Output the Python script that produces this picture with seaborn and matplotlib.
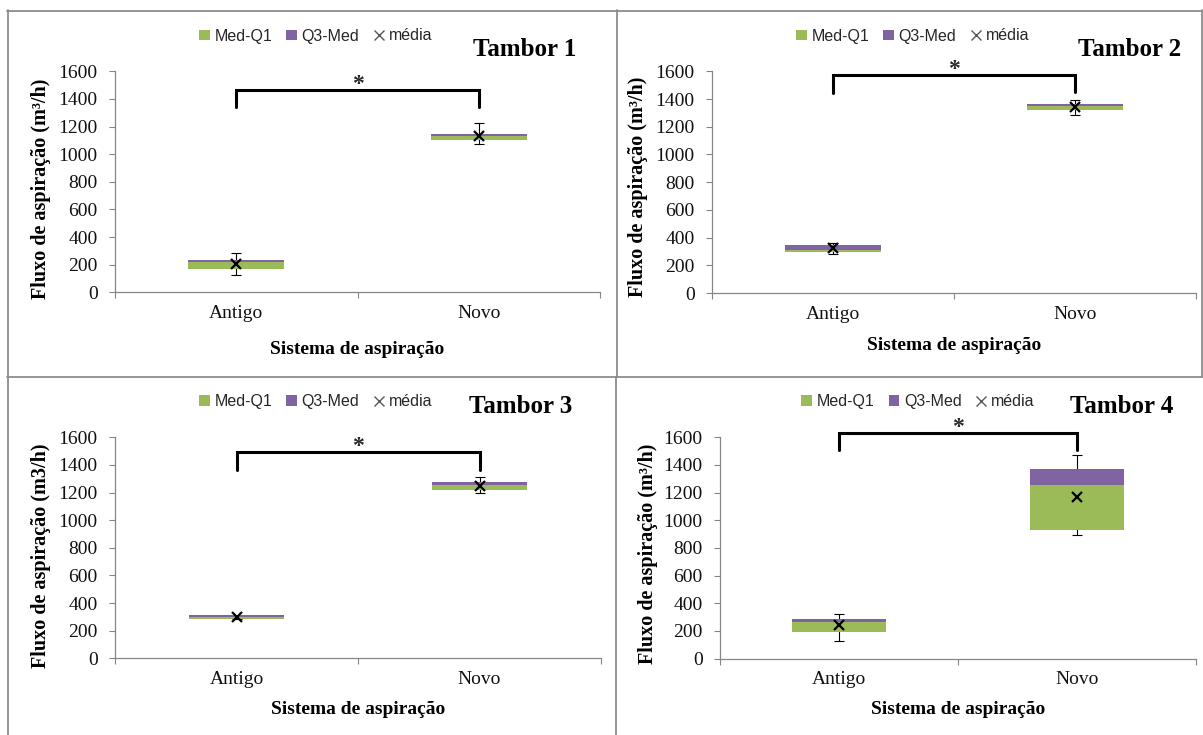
import numpy as np
import pandas as pd
import matplotlib
matplotlib.use("Agg")
import matplotlib.pyplot as plt
import seaborn as sns
from matplotlib.patches import Patch
from matplotlib.lines import Line2D

# ---------------- data ----------------
categories = ["Antigo", "Novo"]
titles = ["Tambor 1", "Tambor 2", "Tambor 3", "Tambor 4"]
ylabels = ["Fluxo de aspiração (m³/h)", "Fluxo de aspiração (m³/h)",
           "Fluxo de aspiração (m3/h)", "Fluxo de aspiração (m³/h)"]
xlabel = "Sistema de aspiração"
legend_labels = ["Med-Q1", "Q3-Med", "média"]
yticks = [0, 200, 400, 600, 800, 1000, 1200, 1400, 1600]

q1 = [[167, 1100], [298, 1321], [282, 1218], [192, 928]]
med = [[219, 1132], [308, 1352], [301, 1255], [262, 1256]]
q3 = [[234, 1146], [347, 1365], [313, 1279], [284, 1369]]
mean = [[205, 1132], [327, 1345], [297, 1250], [241, 1171]]
whisk_lo = [[125, 1074], [279, 1287], [287, 1195], [130, 892]]
whisk_hi = [[282, 1224], [359, 1393], [308, 1315], [322, 1473]]
bracket_top = [1467, 1575, 1496, 1632]
bracket_left_end = [1340, 1445, 1360, 1509]
bracket_right_end = [1342, 1453, 1362, 1509]
signif = ["*", "*", "*", "*"]

# ---------------- style ----------------
GREEN = "#9BBB59"
PURPLE = "#8064A2"
AXIS_GRAY = "#868686"
FRAME_GRAY = "#8c8c8c"

sns.set_theme(style="white")
plt.rcParams["font.family"] = ["Liberation Serif", "DejaVu Serif"]

W, H = 1203, 735
fig = plt.figure(figsize=(W / 100, H / 100), dpi=100)
fig.patch.set_facecolor("white")


def fig_rect(x0, y0, x1, y1):
    return [x0 / W, 1 - y1 / H, (x1 - x0) / W, (y1 - y0) / H]


axes_px = [(115, 71.3, 600, 292.3), (712, 71.3, 1196, 293),
           (115, 437.3, 601, 658.3), (720, 437.3, 1196, 658.5)]
ylabel_px = [(41.5, 188.5), (638, 187), (41.5, 555.5), (648, 554)]
xlabel_py = [350, 345, 710, 710]
title_px = [(525, 49), (1130, 49), (521, 406.7), (1121.5, 406.7)]
legend_px = [(315.8, 36), (912.8, 36), (315.8, 401.7), (918, 401.7)]

for i in range(4):
    x0, y0, x1, y1 = axes_px[i]
    ax = fig.add_axes(fig_rect(x0, y0, x1, y1))
    ax.set_facecolor("white")

    df = pd.DataFrame({
        "sistema": categories,
        "q1": q1[i], "med": med[i], "q3": q3[i],
        "mean": mean[i], "lo": whisk_lo[i], "hi": whisk_hi[i],
    })
    df["med_q1"] = df["med"] - df["q1"]
    df["q3_med"] = df["q3"] - df["med"]

    sns.barplot(data=df, x="sistema", y="med_q1", bottom=df["q1"].values,
                color=GREEN, saturation=1, width=0.395, errorbar=None,
                linewidth=0, ax=ax, zorder=2)
    sns.barplot(data=df, x="sistema", y="q3_med", bottom=df["med"].values,
                color=PURPLE, saturation=1, width=0.395, errorbar=None,
                linewidth=0, ax=ax, zorder=2)

    pos = np.arange(len(categories))
    ax.errorbar(pos, df["mean"], yerr=[df["mean"] - df["lo"], df["hi"] - df["mean"]],
                fmt="none", ecolor="black", elinewidth=0.8, capsize=3.8,
                capthick=0.8, zorder=1)
    ax.plot(pos, df["mean"], ls="none", marker="x", color="black",
            markersize=7.5, mew=1.6, zorder=5)

    # significance bracket
    ax.plot([pos[0], pos[0], pos[1], pos[1]],
            [bracket_left_end[i], bracket_top[i], bracket_top[i], bracket_right_end[i]],
            color="black", lw=2.2, solid_joinstyle="miter", clip_on=False, zorder=6)
    ax.text((pos[0] + pos[1]) / 2, bracket_top[i], signif[i], ha="center",
            va="baseline", fontsize=17, fontweight="bold", clip_on=False)

    ax.set_xlim(-0.5, 1.5)
    ax.set_ylim(0, 1600)
    ax.set_yticks(yticks)
    ax.set_yticklabels([str(t) for t in yticks])
    ax.set_xticks(pos)
    ax.set_xticklabels(categories)
    ax.set_xticks([-0.5, 0.5, 1.5], minor=True)

    for s in ["top", "right"]:
        ax.spines[s].set_visible(False)
    for s in ["left", "bottom"]:
        ax.spines[s].set_visible(True)
        ax.spines[s].set_color(AXIS_GRAY)
        ax.spines[s].set_linewidth(0.9)

    ax.tick_params(axis="y", which="major", left=True, direction="out", length=4.5,
                   width=0.8, color=AXIS_GRAY, pad=8, labelsize=14, labelcolor="#111111")
    ax.tick_params(axis="x", which="major", bottom=True, length=0, pad=9,
                   labelsize=14, labelcolor="#111111")
    ax.tick_params(axis="x", which="minor", bottom=True, direction="out", length=4.5,
                   width=0.8, color=AXIS_GRAY)

    ax.set_ylabel(ylabels[i], fontsize=14.5, fontweight="bold", color="black")
    ax.set_xlabel(xlabel, fontsize=14, fontweight="bold", color="black")
    lx, ly = ylabel_px[i]
    ax.yaxis.label.set_va("center")
    ax.yaxis.set_label_coords((lx - x0) / (x1 - x0), (y1 - ly) / (y1 - y0))
    ax.xaxis.label.set_va("center")
    ax.xaxis.set_label_coords(0.5, (y1 - xlabel_py[i]) / (y1 - y0))

    tx, ty = title_px[i]
    fig.text(tx / W, 1 - ty / H, titles[i], ha="center", va="center",
             fontsize=18, fontweight="bold", color="black")

    handles = [Patch(facecolor=GREEN, edgecolor="none"),
               Patch(facecolor=PURPLE, edgecolor="none"),
               Line2D([], [], ls="none", marker="x", color="#595959",
                      markersize=7, mew=1.0)]
    gx, gy = legend_px[i]
    leg = fig.legend(handles, legend_labels, loc="center",
                     bbox_to_anchor=(gx / W, 1 - gy / H), ncol=3, frameon=False,
                     prop={"family": "Liberation Sans", "size": 11.5},
                     handlelength=0.65, handleheight=0.65, handletextpad=0.3,
                     columnspacing=0.9, borderpad=0, borderaxespad=0)
    for t in leg.get_texts():
        t.set_color("#262626")

# ---------------- panel frames ----------------
frame_lines = [
    ((7, 10.5), (1203, 10.5)),
    ((8, 10), (8, 735)),
    ((617, 10), (617, 377)),
    ((7, 377), (1203, 377)),
    ((615.5, 377), (615.5, 735)),
    ((1202, 10), (1202, 377)),
]
for (ax_, ay_), (bx_, by_) in frame_lines:
    fig.add_artist(Line2D([ax_ / W, bx_ / W], [1 - ay_ / H, 1 - by_ / H],
                          color=FRAME_GRAY, lw=1.3, transform=fig.transFigure))

fig.savefig("out.png", dpi=100, facecolor="white")
